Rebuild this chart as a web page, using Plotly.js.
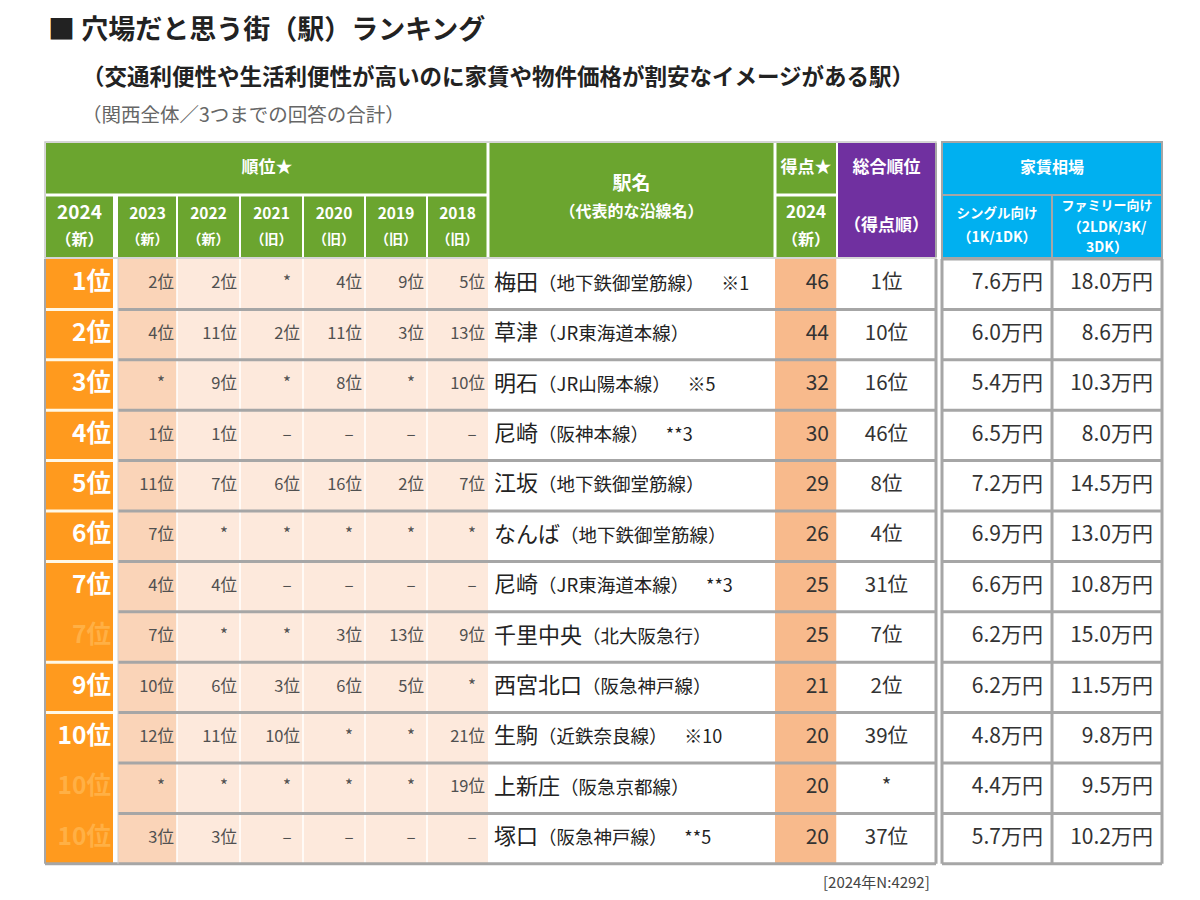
<!DOCTYPE html>
<html><head><meta charset="utf-8">
<script src="https://cdn.plot.ly/plotly-3.0.1.min.js"></script>
<style>body{margin:0;background:#fff}</style>
</head><body><div id="chart" style="width:1200px;height:900px"></div>
<script>
// ---------------- data ----------------
const rank2024 = ['1位','2位','3位','4位','5位','6位','7位','7位','9位','10位','10位','10位'];
const rank2023 = ['2位','4位','*','1位','11位','7位','4位','7位','10位','12位','*','3位'];
const rank2022 = ['2位','11位','9位','1位','7位','*','4位','*','6位','11位','*','3位'];
const rank2021 = ['*','2位','*','–','6位','*','–','*','3位','10位','*','–'];
const rank2020 = ['4位','11位','8位','–','16位','*','–','3位','6位','*','*','–'];
const rank2019 = ['9位','3位','*','–','2位','*','–','13位','5位','*','*','–'];
const rank2018 = ['5位','13位','10位','–','7位','*','–','9位','*','21位','19位','–'];
const stations = ['梅田','草津','明石','尼崎','江坂','なんば','尼崎','千里中央','西宮北口','生駒','上新庄','塚口'];
const lines = ['地下鉄御堂筋線','JR東海道本線','JR山陽本線','阪神本線','地下鉄御堂筋線','地下鉄御堂筋線','JR東海道本線','北大阪急行','阪急神戸線','近鉄奈良線','阪急京都線','阪急神戸線'];
const notes = ['※1','','※5','**3','','','**3','','','※10','','**5'];
const scores = [46,44,32,30,29,26,25,25,21,20,20,20];
const overallRank = ['1位','10位','16位','46位','8位','4位','31位','7位','2位','39位','*','37位'];
const rentSingle = [7.6,6.0,5.4,6.5,7.2,6.9,6.6,6.2,6.2,4.8,4.4,5.7];
const rentFamily = [18.0,8.6,10.3,8.0,14.5,13.0,10.8,15.0,11.5,9.8,9.5,10.2];
const yearLabels = ['2023','2022','2021','2020','2019','2018'];
const yearKinds = ['（新）','（新）','（旧）','（旧）','（旧）','（旧）'];
const titleText = '■ 穴場だと思う街（駅）ランキング';
const subtitleText = '（交通利便性や生活利便性が高いのに家賃や物件価格が割安なイメージがある駅）';
const noteText = '（関西全体／3つまでの回答の合計）';
const footerText = '[2024年N:4292]';

// ---------------- layout geometry ----------------
const FONT = '"Noto Sans CJK JP", "Noto Sans", sans-serif';
const GREEN = '#6BA52F', PURPLE = '#7030A0', BLUE = '#00B0F0';
const ORANGE = '#FF9A1E', PEACH1 = '#FAD4B8', PEACH2 = '#FDE9DC', SCOREBG = '#F8BA8C';
const GRID = '#A6A6A6';
const C = {
  rank:[46,113], station:[488,775], score:[775,837], overall:[837,936],
  single:[942,1052], family:[1052,1162]
};
const yearCols = [[118,177],[177,240],[240,303],[303,365],[365,427],[427,488]];
const yearData = [rank2023, rank2022, rank2021, rank2020, rank2019, rank2018];
const HT = 143, HM = 195, HB = 257;
const BT = 259, RH = 50.4, N = stations.length, BB = BT + RH*N;
const rowTop = i => BT + i*RH;
const rowMid = i => BT + (i+0.5)*RH;
const mid = c => (c[0]+c[1])/2;

const shapes = [];
function rect(x0,x1,y0,y1,fill){ shapes.push({type:'rect',xref:'x',yref:'y',x0,x1,y0,y1,fillcolor:fill,line:{width:0},layer:'below'}); }
function seg(x0,y0,x1,y1,color,w){ shapes.push({type:'line',xref:'x',yref:'y',x0,y0,x1,y1,line:{color,width:w},layer:'below'}); }

// header backgrounds
rect(46,837,HT,HB,GREEN);
rect(837,936,HT,HB,PURPLE);
rect(942,1162,HT,HB,BLUE);
seg(46,HM,488,HM,'#fff',3);
seg(775,HM,837,HM,'#fff',3);
seg(488,HT,488,HB,'#fff',3);
seg(775,HT,775,HB,'#fff',3);
seg(837,HT,837,HB,'#fff',2);
seg(115.5,HM,115.5,HB,'#fff',5);
yearCols.slice(1).forEach(c=>seg(c[0],HM,c[0],HB,'#fff',2));
// header outline & rent header grid
shapes.push({type:'rect',xref:'x',yref:'y',x0:45,x1:936,y0:142,y1:258,line:{color:'#C8C8C8',width:1.5},layer:'below'});
shapes.push({type:'rect',xref:'x',yref:'y',x0:942,x1:1162,y0:142,y1:258,line:{color:GRID,width:2},layer:'below'});
seg(942,HM,1162,HM,GRID,2);
seg(1052,HM,1052,HB,GRID,2);

// body fills
rect(C.rank[0],C.rank[1],BT,BB,ORANGE);
yearCols.forEach((c,j)=>rect(c[0],c[1],BT,BB,j===0?PEACH1:PEACH2));
rect(C.score[0],C.score[1],BT,BB,SCOREBG);
// year column white separators
yearCols.slice(1).forEach(c=>seg(c[0],BT,c[0],BB,'#fff',1.5));
seg(C.score[1],BT,C.score[1],BB,'#fff',1.5);
// rank column separators (none inside ties)
for(let i=1;i<N;i++){
  if(rank2024[i]!==rank2024[i-1]) seg(C.rank[0],rowTop(i),C.rank[1],rowTop(i),'#FFF8E6',3);
}
// row grid lines
for(let i=1;i<N;i++) seg(118,rowTop(i),936,rowTop(i),GRID,3);
seg(45,BB,936,BB,GRID,3);
seg(45,BT,45,BB,GRID,2);
seg(118,BT,118,BB,'#D0D0D0',1);
seg(936,BT,936,BB,GRID,3);
seg(936,HT,936,HB,GRID,2);
// rent grid
for(let i=0;i<=N;i++) seg(942,rowTop(i),1162,rowTop(i),GRID,3);
[942,1052,1162].forEach(x=>seg(x,BT,x,BB,GRID,3));

// ---------------- text traces ----------------
const traces = [];
function txt(xs,ys,texts,size,color,pos,weight){
  traces.push({type:'scatter',mode:'text',x:xs,y:ys,text:texts,textposition:pos,
    textfont:{family:FONT,size,color,weight:weight||'normal'},hoverinfo:'skip',cliponaxis:false,showlegend:false});
}
// header texts
txt([mid([46,488])],[169],['順位★'],17,'#fff','middle center','bold');
txt([mid(C.rank)],[214],['2024'],19,'#fff','middle center','bold');
txt([mid(C.rank)],[241],['（新）'],16,'#fff','middle center','bold');
txt(yearCols.map(mid),yearCols.map(()=>215),yearLabels,15.5,'#fff','middle center','bold');
txt(yearCols.map(mid),yearCols.map(()=>240),yearKinds,14,'#fff','middle center','bold');
txt([mid(C.station)],[185],['駅名'],19,'#fff','middle center','bold');
txt([mid(C.station)],[213],['（代表的な沿線名）'],16,'#fff','middle center','bold');
txt([mid(C.score)],[169],['得点★'],17,'#fff','middle center','bold');
txt([mid(C.score)],[214],['2024'],17,'#fff','middle center','bold');
txt([mid(C.score)],[241],['（新）'],16,'#fff','middle center','bold');
txt([mid(C.overall)],[169],['総合順位'],17,'#fff','middle center','bold');
txt([mid(C.overall)],[227],['（得点順）'],17,'#fff','middle center','bold');
txt([mid([942,1162])],[169],['家賃相場'],16,'#fff','middle center','bold');
txt([mid(C.single)],[215],['シングル向け'],13.5,'#fff','middle center','bold');
txt([mid(C.single)],[238],['（1K/1DK）'],14,'#fff','middle center','bold');
txt([mid(C.family)],[207],['ファミリー向け'],13,'#fff','middle center','bold');
txt([mid(C.family)],[228],['（2LDK/3K/'],14,'#fff','middle center','bold');
txt([mid(C.family)],[248],['3DK）'],14,'#fff','middle center','bold');

const rowYs = stations.map((_,i)=>rowMid(i));
// rank 2024 (tied ranks faded)
txt(rowYs.map(()=>C.rank[1]-2),rowYs,rank2024,24.5,
  rank2024.map((r,i)=> i>0 && r===rank2024[i-1] ? '#FFB045' : '#fff'),
  'middle left','bold');
// past ranks
yearData.forEach((arr,j)=>{
  const c = yearCols[j];
  const nx=[],ny=[],nt=[],px=[],py=[],pt=[];
  arr.forEach((v,i)=>{
    if(v==='*'||v==='–'){ px.push(c[1]-16); py.push(rowYs[i]); pt.push(v); }
    else { nx.push(c[1]-3); ny.push(rowYs[i]); nt.push(v); }
  });
  txt(nx,ny,nt,16.5,'#505050','middle left');
  txt(px,py,pt,17,'#505050','middle center');
});
// stations
txt(rowYs.map(()=>C.station[0]+6),rowYs,
  stations.map((s,i)=>s+'<span style="font-size:18.5px">（'+lines[i]+'）</span>'+(notes[i]?'<span style="font-size:18px">\u3000\u00a0\u00a0'+notes[i]+'</span>':'')),
  22,'#222','middle right');
// score
txt(rowYs.map(()=>C.score[1]-8),rowYs,scores.map(String),21,'#333','middle left');
// overall rank
txt(rowYs.map(()=>mid(C.overall)),rowYs,overallRank,20.5,'#333','middle center');
// rents
txt(rowYs.map(()=>C.single[1]-9),rowYs,rentSingle.map(v=>v.toFixed(1)+'万円'),21,'#333','middle left');
txt(rowYs.map(()=>C.family[1]-9),rowYs,rentFamily.map(v=>v.toFixed(1)+'万円'),21,'#333','middle left');

const layout = {
  width:1200,height:900,margin:{l:0,r:0,t:0,b:0},
  paper_bgcolor:'#fff',plot_bgcolor:'rgba(0,0,0,0)',
  xaxis:{range:[0,1200],visible:false,fixedrange:true},
  yaxis:{range:[900,0],visible:false,fixedrange:true},
  title:{text:titleText,x:48/1200,xanchor:'left',xref:'container',y:1-30/900,yanchor:'middle',yref:'container',
    font:{family:FONT,size:27,color:'#222',weight:'bold'}},
  shapes,
  annotations:[
    {xref:'x',yref:'y',x:80,y:75,text:subtitleText,showarrow:false,xanchor:'left',yanchor:'middle',
      font:{family:FONT,size:22.5,color:'#222',weight:'bold'}},
    {xref:'x',yref:'y',x:80,y:113,text:noteText,showarrow:false,xanchor:'left',yanchor:'middle',
      font:{family:FONT,size:19.5,color:'#666'}},
    {xref:'x',yref:'y',x:932,y:881,text:footerText,showarrow:false,xanchor:'right',yanchor:'middle',
      font:{family:FONT,size:15,color:'#444'}}
  ],
  showlegend:false
};
Plotly.newPlot('chart',traces,layout,{displayModeBar:false,staticPlot:true});
</script></body></html>
